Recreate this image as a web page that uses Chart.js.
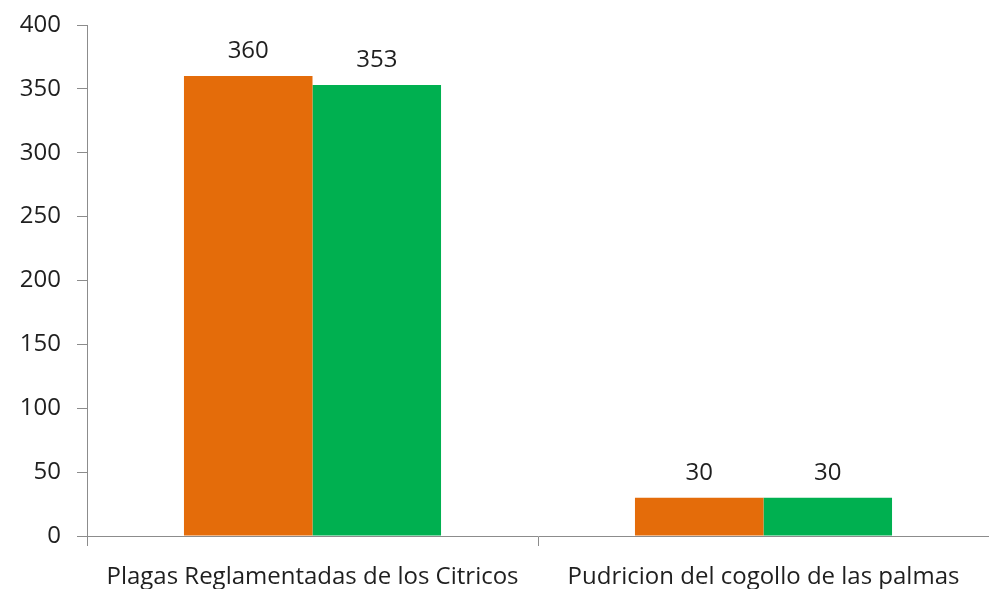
<!DOCTYPE html>
<html>
<head>
<meta charset="utf-8">
<script src="https://cdn.jsdelivr.net/npm/chart.js@4"></script>
<style>
  html, body { margin: 0; padding: 0; background: #fff; }
  #wrap { width: 989px; height: 589px; }
</style>
</head>
<body>
<div id="wrap"><canvas id="chart" width="989" height="589"></canvas></div>
<script>
const categories = ["Plagas Reglamentadas de los Citricos", "Pudricion del cogollo de las palmas"];
const seriesA = [360, 30];
const seriesB = [353, 30];
const yTicks = [0, 50, 100, 150, 200, 250, 300, 350, 400];

const textColor = "#1f1f1f";
const axisColor = "#8c8c8c";
const fontFamily = "'Open Sans', 'Noto Sans', sans-serif";

// value labels above each bar
const barLabels = {
  id: "barLabels",
  afterDatasetsDraw(chart) {
    const ctx = chart.ctx;
    ctx.save();
    ctx.fillStyle = textColor;
    ctx.font = "24px " + fontFamily;
    ctx.textAlign = "center";
    ctx.textBaseline = "bottom";
    chart.data.datasets.forEach((ds, i) => {
      chart.getDatasetMeta(i).data.forEach((bar, j) => {
        ctx.fillText(String(ds.data[j]), bar.x, bar.y - 13);
      });
    });
    ctx.restore();
  }
};

new Chart(document.getElementById("chart"), {
  type: "bar",
  data: {
    labels: categories,
    datasets: [
      { data: seriesA, backgroundColor: "#e46c0a", barPercentage: 1, categoryPercentage: 0.57 },
      { data: seriesB, backgroundColor: "#00b050", barPercentage: 1, categoryPercentage: 0.57 }
    ]
  },
  options: {
    responsive: false,
    animation: false,
    layout: { padding: { top: 25, right: 0, bottom: 0, left: 0 } },
    plugins: { legend: { display: false }, tooltip: { enabled: false } },
    scales: {
      x: {
        grid: { drawOnChartArea: false, tickLength: 10, color: axisColor, offset: true },
        border: { color: axisColor, width: 1 },
        ticks: { color: textColor, font: { size: 24, family: fontFamily }, padding: 17, maxRotation: 0 },
        afterFit(scale) { scale.height = 53; }
      },
      y: {
        min: 0,
        max: 400,
        afterBuildTicks(scale) { scale.ticks = yTicks.map(v => ({ value: v })); },
        grid: { drawOnChartArea: false, tickLength: 10, color: axisColor },
        border: { color: axisColor, width: 1 },
        ticks: { color: textColor, font: { size: 24, family: fontFamily }, padding: 16 },
        afterFit(scale) { scale.width = 87; scale.paddingTop = 0; scale.paddingBottom = 0; }
      }
    }
  },
  plugins: [barLabels]
});
</script>
</body>
</html>
